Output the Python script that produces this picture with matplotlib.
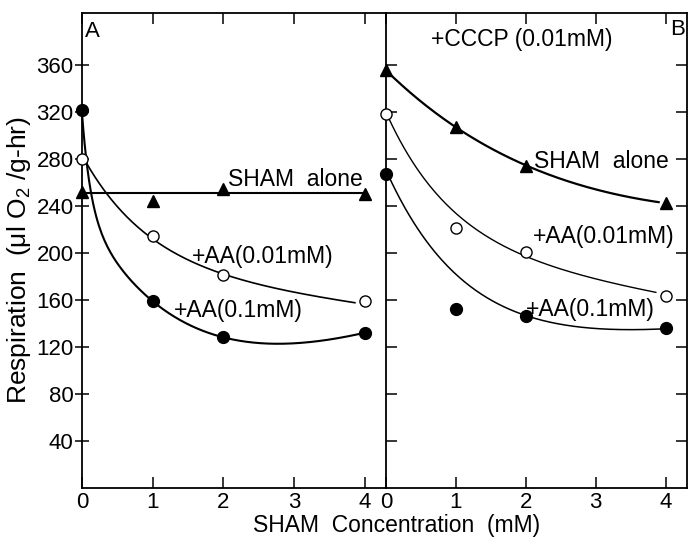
import matplotlib
matplotlib.use('Agg')
import matplotlib.pyplot as plt
from matplotlib import font_manager
import numpy as np

installed = {f.name for f in font_manager.fontManager.ttflist}
narrow = 'Liberation Sans Narrow' in installed
if narrow:
    plt.rcParams['font.family'] = ['Liberation Sans Narrow', 'Liberation Sans', 'DejaVu Sans']
    plt.rcParams['mathtext.rm'] = 'Liberation Sans Narrow'
    scale = 1.2
else:
    plt.rcParams['font.family'] = ['Liberation Sans', 'DejaVu Sans']
    plt.rcParams['mathtext.rm'] = 'Liberation Sans'
    scale = 1.0
plt.rcParams['mathtext.fontset'] = 'custom'

# SHAM concentration (mM)
conc = [0, 1, 2, 4]

# panel A: no uncoupler
a_sham = [252, 244, 254, 250]
a_aa001 = [280, 214, 181, 159]
a_aa01 = [321, 159, 128, 132]

# panel B: +CCCP (0.01mM)
b_sham = [355, 307, 274, 242]
b_aa001 = [318, 221, 201, 163]
b_aa01 = [267, 152, 146, 136]

# hand drawn fit curves (x, y)
a_sham_line = ([0, 4], [251, 251])
a_aa001_curve = ([0.07, 0.31, 1, 2, 3, 3.86], [277, 251, 214, 181, 166, 158])
a_aa01_curve = ([0, 0.13, 0.37, 1, 2, 3, 4], [320, 251, 204, 159, 128, 123, 132])
b_sham_curve = ([0, 1, 2, 3, 3.9], [355, 307, 274, 254, 243])
b_aa001_curve = ([0.03, 0.5, 1, 2, 3, 3.86], [316, 265, 236, 195, 179, 166])
b_aa01_curve = ([0.03, 0.5, 1, 2, 3, 4], [265, 219, 181, 146, 135, 136])


def smooth(curve, double=False, n=200):
    # least squares fit of a + b1*exp(-k1 x) [+ b2*exp(-k2 x)] + c*x
    xs = np.array(curve[0], float)
    ys = np.array(curve[1], float)
    xe = np.linspace(xs[0], xs[-1], n)
    k2s = np.linspace(0.1, 3, 30) if double else [None]

    def basis(x, k1, k2):
        cols = [np.ones_like(x), np.exp(-k1 * x), x]
        if k2 is not None:
            cols.append(np.exp(-k2 * x))
        return np.column_stack(cols)

    best = None
    for k1 in np.linspace(0.3, 25, 100):
        for k2 in k2s:
            if k2 is not None and k2 * 2 > k1:
                continue
            A = basis(xs, k1, k2)
            coef = np.linalg.lstsq(A, ys, rcond=None)[0]
            err = np.sum((A @ coef - ys) ** 2)
            if best is None or err < best[0]:
                best = (err, k1, k2, coef)
    _, k1, k2, coef = best
    return xe, basis(xe, k1, k2) @ coef


fig = plt.figure(figsize=(6.88, 5.4), dpi=100)
axA = fig.add_axes([0.119, 0.0963, 0.442, 0.880])
axB = fig.add_axes([0.561, 0.0963, 0.437, 0.880])

ms = dict(clip_on=False, zorder=5)

# panel A
axA.plot(a_sham_line[0], a_sham_line[1], color='black', lw=1.5)
x, y = smooth(a_aa001_curve)
axA.plot(x, y, color='black', lw=1.2)
x, y = smooth(a_aa01_curve, double=True)
axA.plot(x, y, color='black', lw=1.5, clip_on=False)
axA.plot(conc, a_sham, '^', color='black', ms=8.5, **ms)
axA.plot(conc, a_aa001, 'o', mfc='white', mec='black', mew=1.0, ms=8, **ms)
axA.plot(conc, a_aa01, 'o', color='black', ms=8.5, **ms)

# panel B
x, y = smooth(b_sham_curve)
axB.plot(x, y, color='black', lw=1.6)
x, y = smooth(b_aa001_curve)
axB.plot(x, y, color='black', lw=1.0)
x, y = smooth(b_aa01_curve)
axB.plot(x, y, color='black', lw=1.1)
axB.plot(conc, b_sham, '^', color='black', ms=8.5, **ms)
axB.plot(conc, b_aa001, 'o', mfc='white', mec='black', mew=1.0, ms=8, **ms)
axB.plot(conc, b_aa01, 'o', color='black', ms=8.5, **ms)

tick_fs = 16 * scale
for ax in (axA, axB):
    ax.set_xlim(0, 4.3)
    ax.set_ylim(0, 404)
    ax.set_xticks([0, 1, 2, 3, 4])
    ax.set_yticks([40, 80, 120, 160, 200, 240, 280, 320, 360])
    for s in ax.spines.values():
        s.set_linewidth(1.3)
    ax.tick_params(axis='x', direction='in', length=8, width=1.1, top=True,
                   labelsize=tick_fs, pad=3)

axA.tick_params(axis='y', direction='inout', length=10, width=1.1, labelsize=tick_fs, pad=1)
axA.spines['right'].set_visible(False)
axB.tick_params(axis='y', direction='in', length=8, width=1.1, left=True, right=True,
                labelleft=False)

fs = 16.5 * scale
kw = dict(fontsize=fs, va='baseline', ha='left')
axA.text(0.04, 397, 'A', fontsize=16 * scale, va='top', ha='left')
axA.text(2.07, 257, 'SHAM  alone', **kw)
axA.text(1.55, 191, '+AA(0.01mM)', **kw)
axA.text(1.3, 145, '+AA(0.1mM)', **kw)

axB.text(0.64, 376, '+CCCP (0.01mM)', **kw)
axB.text(4.07, 399, 'B', fontsize=16 * scale, va='top', ha='left', clip_on=False)
axB.text(2.12, 272, 'SHAM  alone', **kw)
axB.text(2.1, 208, '+AA(0.01mM)', **kw)
axB.text(2.0, 146, '+AA(0.1mM)', **kw)

fig.text(0.027, 0.519, 'Respiration  (μl O$_2$ /g-hr)', rotation=90, fontsize=19 * scale,
         ha='center', va='center')
fig.text(0.577, 0.026, 'SHAM  Concentration  (mM)', fontsize=16.5 * scale,
         ha='center', va='center')

fig.savefig('out.png', dpi=100)
